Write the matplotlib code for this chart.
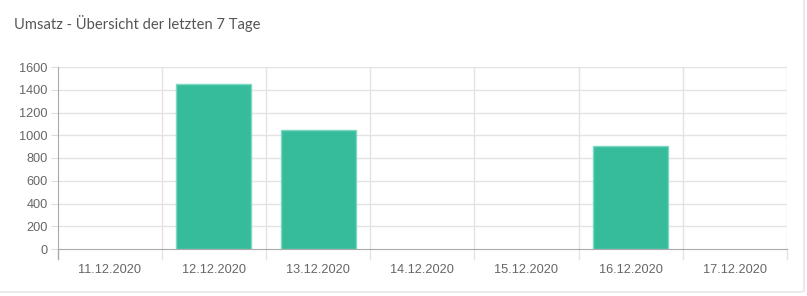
import matplotlib
matplotlib.use("Agg")
import matplotlib.pyplot as plt
from matplotlib.patches import FancyBboxPatch
import numpy as np

categories = ["11.12.2020", "12.12.2020", "13.12.2020", "14.12.2020",
              "15.12.2020", "16.12.2020", "17.12.2020"]
values = [0, 1450, 1050, 0, 0, 905, 0]
yticks = [0, 200, 400, 600, 800, 1000, 1200, 1400, 1600]

W, H = 807, 296
fig = plt.figure(figsize=(W / 100, H / 100), dpi=100)
fig.patch.set_facecolor("white")

# card border
card = FancyBboxPatch((-10 / W, 4 / H), (W - 3 + 10) / W, (H + 10) / H,
                      boxstyle="round,pad=0,rounding_size=0.006",
                      transform=fig.transFigure, facecolor="white",
                      edgecolor="#e6e6e6", linewidth=1.2, zorder=-5)
fig.patches.append(card)

ax = fig.add_axes([57.5 / W, (H - 249) / H, (787 - 57.5) / W, (249 - 67) / H])
ax.set_zorder(2)
ax.set_facecolor("none")
x = np.arange(len(categories))
edges = ["#7dd8c2" if v > 0 else "none" for v in values]
ax.bar(x, values, width=0.72, color="#36bc9b", edgecolor=edges,
       linewidth=1.0, zorder=3)

ax.set_xlim(-0.5, len(categories) - 0.5)
ax.set_ylim(0, 1600)
ax.set_yticks(yticks)
ax.set_yticklabels([str(v) for v in yticks])
ax.set_xticks(x)
ax.set_xticklabels(categories)

# grid
for yv in yticks[1:]:
    ax.axhline(yv, color="#e3e3e3", linewidth=1, zorder=1)
for b in np.arange(0.5, len(categories) - 0.5, 1.0):
    ax.axvline(b, color="#e3e3e3", linewidth=1, zorder=1)
ax.axvline(len(categories) - 0.5, color="#e3e3e3", linewidth=1, zorder=1)

# boundary ticks below x axis
for b in np.arange(-0.5, len(categories), 1.0):
    ax.plot([b, b], [0, -1600 * 10 / 182], color="#e3e3e3" if b > -0.5 else "#aaaaaa",
            linewidth=1, clip_on=False, zorder=1)

for s in ["top", "right"]:
    ax.spines[s].set_visible(False)
ax.spines["left"].set_color("#aaaaaa")
ax.spines["bottom"].set_color("#aaaaaa")
ax.spines["left"].set_zorder(4)
ax.spines["bottom"].set_zorder(4)

ax.tick_params(axis="x", length=0, pad=11, labelsize=9.2, labelcolor="#666666")
ax.tick_params(axis="y", length=5, color="#dddddd", pad=2, labelsize=9.2,
               labelcolor="#666666")
ax.yaxis.get_major_ticks()[0].tick1line.set_color("#aaaaaa")
for lab in ax.get_xticklabels() + ax.get_yticklabels():
    lab.set_fontfamily("Liberation Sans")

fig.text(14 / W, 1 - 23 / H, "Umsatz - Übersicht der letzten 7 Tage",
         fontsize=10.6, color="#555555", family="Lato", va="center", ha="left")

fig.savefig("out.png", dpi=100, facecolor="white")
